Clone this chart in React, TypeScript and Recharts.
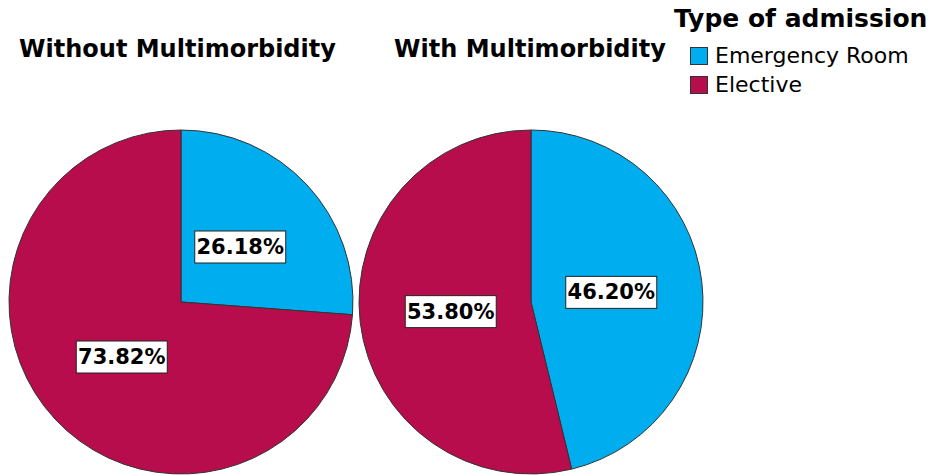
import { Pie, PieChart, Cell } from 'recharts'

const CATEGORIES = ['Emergency Room', 'Elective']
const WITHOUT_MM = [26.18, 73.82]
const WITH_MM = [46.2, 53.8]
const GROUPS = ['Without Multimorbidity', 'With Multimorbidity']
const COLORS = ['#00AEEF', '#B80D4D']

const RADIAN = Math.PI / 180
const FONT = '"DejaVu Sans", Verdana, sans-serif'

function renderLabel(props: any) {
  const { cx, cy, midAngle, outerRadius, value } = props
  const r = outerRadius * 0.47
  const x = cx + r * Math.cos(-midAngle * RADIAN)
  const y = cy + r * Math.sin(-midAngle * RADIAN)
  const text = `${Number(value).toFixed(2)}%`
  const w = 91
  const h = 32
  return (
    <g>
      <rect x={x - w / 2} y={y - h / 2} width={w} height={h} fill="#fff" stroke="#222" strokeWidth={1} />
      <text x={x} y={y + 1} textAnchor="middle" dominantBaseline="middle" fontFamily={FONT} fontWeight="bold" fontSize={21} fill="#000">
        {text}
      </text>
    </g>
  )
}

export default function App() {
  const dataA = CATEGORIES.map((name, i) => ({ name, value: WITHOUT_MM[i] }))
  const dataB = CATEGORIES.map((name, i) => ({ name, value: WITH_MM[i] }))

  return (
    <div style={{ position: 'absolute', left: 0, top: 0, width: 935, height: 475, background: '#fff', fontFamily: FONT }}>
      <PieChart width={935} height={475} margin={{ top: 0, right: 0, bottom: 0, left: 0 }}>
        <Pie
          data={dataA}
          dataKey="value"
          cx={181}
          cy={302}
          outerRadius={172}
          startAngle={90}
          endAngle={-270}
          stroke="#333"
          strokeWidth={1}
          label={renderLabel}
          labelLine={false}
          isAnimationActive={false}
        >
          {dataA.map((d, i) => (
            <Cell key={d.name} fill={COLORS[i]} />
          ))}
        </Pie>
        <Pie
          data={dataB}
          dataKey="value"
          cx={531}
          cy={302}
          outerRadius={172}
          startAngle={90}
          endAngle={-270}
          stroke="#333"
          strokeWidth={1}
          label={renderLabel}
          labelLine={false}
          isAnimationActive={false}
        >
          {dataB.map((d, i) => (
            <Cell key={d.name} fill={COLORS[i]} />
          ))}
        </Pie>
      </PieChart>
      {GROUPS.map((g, i) => (
        <div
          key={g}
          style={{
            position: 'absolute',
            top: 34,
            left: i === 0 ? 0 : 355,
            width: i === 0 ? 355 : 350,
            textAlign: 'center',
            fontWeight: 'bold',
            fontSize: 24,
            lineHeight: '30px',
          }}
        >
          {g}
        </div>
      ))}
      <div style={{ position: 'absolute', left: 674, top: 3 }}>
        <div style={{ fontWeight: 'bold', fontSize: 25, lineHeight: '32px' }}>Type of admission</div>
        {CATEGORIES.map((c, i) => (
          <div key={c} style={{ display: 'flex', alignItems: 'center', marginLeft: 16, height: 29, marginTop: i === 0 ? 6 : 0 }}>
            <span style={{ width: 18, height: 18, background: COLORS[i], border: '1px solid #333', boxSizing: 'border-box', marginRight: 7 }} />
            <span style={{ fontSize: 22 }}>{c}</span>
          </div>
        ))}
      </div>
    </div>
  )
}
